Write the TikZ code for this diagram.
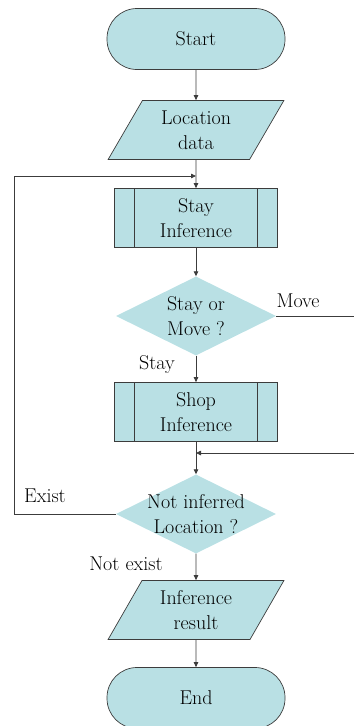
\documentclass[tikz,border=0pt]{standalone}
\usepackage{tikz}
\usetikzlibrary{shapes.geometric,arrows.meta}
\definecolor{boxfill}{RGB}{185,224,228}
\definecolor{lncol}{RGB}{60,60,60}

\begin{document}
\begin{tikzpicture}[x=1pt,y=-1pt,
    every node/.style={font=\fontsize{20}{25}\selectfont, text=black},
    term/.style={draw=lncol, fill=boxfill, line width=0.7pt, rounded corners=30pt,
      minimum width=178pt, minimum height=61pt},
    iobox/.style={draw=lncol, fill=boxfill, line width=0.7pt, trapezium,
      trapezium left angle=60, trapezium right angle=120, trapezium stretches=true,
      minimum width=176pt, minimum height=59pt, inner sep=0pt, align=center},
    procbox/.style={draw=lncol, fill=boxfill, line width=0.7pt, align=center,
      minimum width=163pt, minimum height=59pt,
      path picture={\draw[lncol, line width=0.7pt]
        ([xshift=20pt]path picture bounding box.north west) -- ([xshift=20pt]path picture bounding box.south west)
        ([xshift=-20pt]path picture bounding box.north east) -- ([xshift=-20pt]path picture bounding box.south east);}},
    decide/.style={diamond, fill=boxfill, aspect=2, inner sep=0pt,
      minimum width=160pt, minimum height=79pt},
    flow/.style={draw=lncol, line width=0.8pt},
    tip/.style={-{Triangle[length=5pt,width=4.5pt]}}
  ]
    \useasboundingbox (0,0) rectangle (354,726);

    \node[term] (start) at (196,39) {Start};
    \node[iobox] (loc) at (196,130) {Location\\data};
    \node[procbox] (sinf) at (196,218) {Stay\\Inference};
    \node[decide, label={[align=center]center:{Stay or\\Move ?}}] (sm) at (196,316) {};
    \node[procbox] (shop) at (196,412) {Shop\\Inference};
    \node[decide, label={[align=center]center:{Not inferred\\Location ?}}] (ni) at (196,514) {};
    \node[iobox] (res) at (196,610) {Inference\\result};
    \node[term] (end) at (196,698) {End};

    \coordinate (back) at (196,176);
    \coordinate (merge) at (196,453);
    \coordinate (mvout) at (354,316);
    \coordinate (mvin) at (354,453);
    \coordinate (exl) at (14,514);

    \draw[flow,tip] (start.south) -- (loc.north);
    \draw[flow,tip] (loc.south) -- (sinf.north);
    \draw[flow,tip] (sinf.south) -- (sm.north);
    \draw[flow] (sm.east) -- (mvout);
    \draw[flow,tip] (sm.south) -- (shop.north);
    \draw[flow,tip] (mvin) -- (merge);
    \draw[flow,tip] (shop.south) -- (ni.north);
    \draw[flow,tip] (ni.west) -- (exl) |- (back);
    \draw[flow,tip] (ni.south) -- (res.north);
    \draw[flow,tip] (res.south) -- (end.north);

    \node (mvlab) at (298,301) {Move};
    \node (stlab) at (157,365) {Stay};
    \node (exlab) at (45,496) {Exist};
    \node (nelab) at (126,564) {Not exist};
\end{tikzpicture}
\end{document}
